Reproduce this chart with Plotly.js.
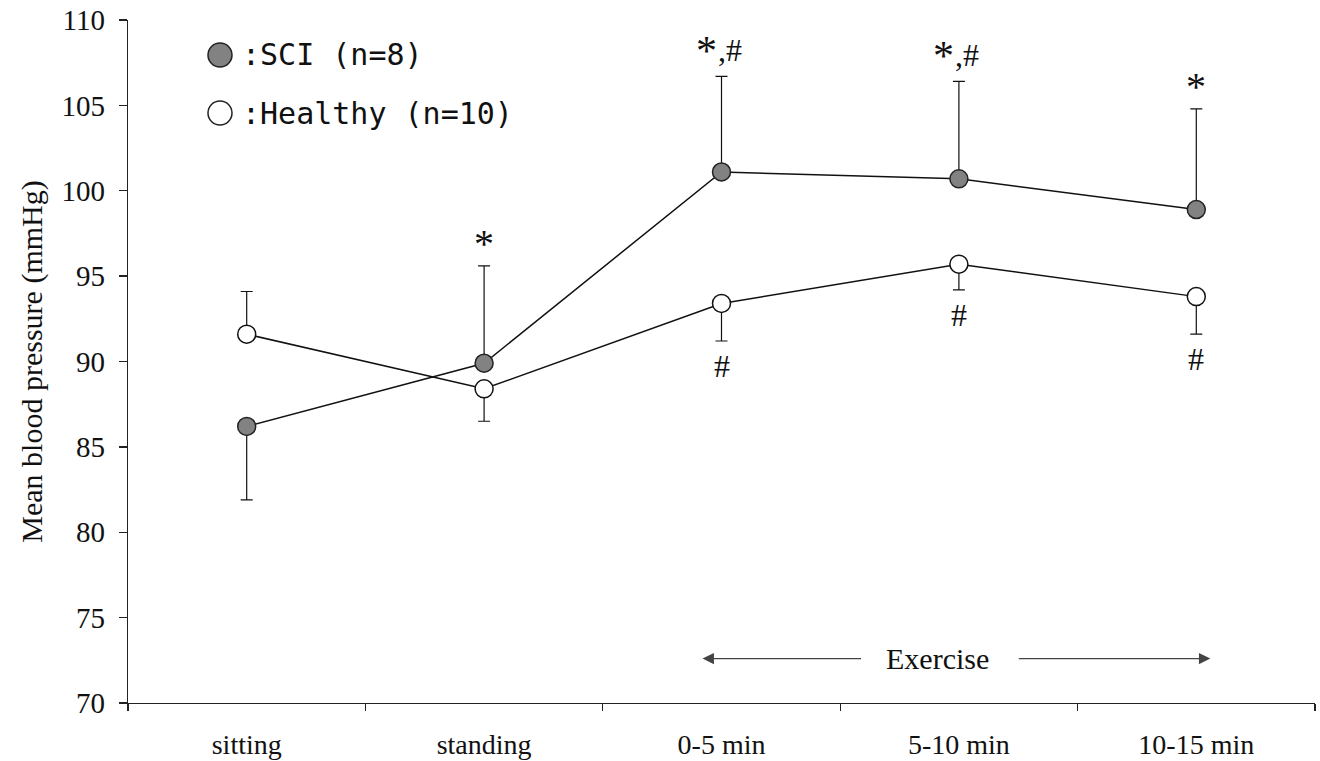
<!DOCTYPE html>
<html><head><meta charset="utf-8">
<script src="https://cdn.plot.ly/plotly-3.0.1.min.js"></script>
<style>html,body{margin:0;padding:0;background:#fff}</style>
</head><body><div id="chart" style="width:1320px;height:761px"></div>
<script>
const categories = ['sitting', 'standing', '0-5 min', '5-10 min', '10-15 min'];
const sciMean = [86.2, 89.9, 101.1, 100.7, 98.9];
const sciSdUp = [0, 5.7, 5.6, 5.7, 5.9];
const sciSdDown = [4.3, 0, 0, 0, 0];
const healthyMean = [91.6, 88.4, 93.4, 95.7, 93.8];
const healthySdUp = [2.5, 0, 0, 0, 0];
const healthySdDown = [0, 1.9, 2.2, 1.5, 2.2];
const sciMarks = ['', '*', '*,#', '*,#', '*'];
const healthyMarks = ['', '', '#', '#', '#'];
const sciName = ':SCI (n=8)';
const healthyName = ':Healthy (n=10)';
const yTitle = 'Mean blood pressure (mmHg)';
const phaseLabel = 'Exercise';
const yTicks = [70, 75, 80, 85, 90, 95, 100, 105, 110];

const SERIF = 'Liberation Serif, Times New Roman, serif';
const MONO = 'DejaVu Sans Mono, monospace';
const INK = '#111';
const sciColor = '#828282';

const traces = [
  {
    x: categories, y: sciMean, type: 'scatter', mode: 'lines+markers', name: sciName,
    line: {color: INK, width: 1.5},
    marker: {symbol: 'circle', size: 18, color: sciColor, line: {color: '#222', width: 1.5}},
    error_y: {type: 'data', symmetric: false, array: sciSdUp, arrayminus: sciSdDown,
      color: INK, thickness: 1.2, width: 6},
    showlegend: false, cliponaxis: false
  },
  {
    x: categories, y: healthyMean, type: 'scatter', mode: 'lines+markers', name: healthyName,
    line: {color: INK, width: 1.5},
    marker: {symbol: 'circle', size: 18, color: '#fff', line: {color: INK, width: 1.5}},
    error_y: {type: 'data', symmetric: false, array: healthySdUp, arrayminus: healthySdDown,
      color: INK, thickness: 1.2, width: 6},
    showlegend: false, cliponaxis: false
  }
];

const annotations = [];
categories.forEach((c, i) => {
  const mk = sciMarks[i];
  if (mk) {
    const yTop = sciMean[i] + sciSdUp[i];
    if (mk.length === 1) {
      annotations.push({x: c, y: yTop, xref: 'x', yref: 'y', text: mk, showarrow: false,
        yanchor: 'middle', yshift: 22, font: {family: SERIF, size: 40, color: INK}});
    } else {
      const star = mk.slice(0, 1);
      const rest = mk.slice(1);
      annotations.push({x: c, y: yTop, xref: 'x', yref: 'y', text: star, showarrow: false,
        xanchor: 'center', xshift: -15, yanchor: 'middle', yshift: 25,
        font: {family: SERIF, size: 42, color: INK}});
      annotations.push({x: c, y: yTop, xref: 'x', yref: 'y', text: rest, showarrow: false,
        xanchor: 'left', xshift: -6, yanchor: 'middle', yshift: 26,
        font: {family: SERIF, size: 32, color: INK}});
    }
  }
  if (healthyMarks[i]) {
    annotations.push({x: c, y: healthyMean[i] - healthySdDown[i], xref: 'x', yref: 'y',
      text: healthyMarks[i], showarrow: false, yanchor: 'middle', yshift: -25,
      font: {family: SERIF, size: 32, color: INK}});
  }
});

// custom legend
const legendX = 0.0775;
const legendRows = [
  {y: 0.9488, name: sciName, fill: sciColor},
  {y: 0.8638, name: healthyName, fill: '#fff'}
];
const shapes = [];
legendRows.forEach(r => {
  shapes.push({type: 'circle', xref: 'paper', yref: 'paper', xsizemode: 'pixel', ysizemode: 'pixel',
    xanchor: legendX, yanchor: r.y, x0: -12, x1: 12, y0: -12, y1: 12,
    fillcolor: r.fill, line: {color: '#222', width: 1.5}});
  annotations.push({xref: 'paper', yref: 'paper', x: legendX, y: r.y, xshift: 20,
    xanchor: 'left', yanchor: 'middle', text: r.name, showarrow: false,
    font: {family: MONO, size: 30, color: INK}});
});

// Exercise label and arrows
const arrowY = 72.6;
annotations.push({x: 2.91, y: arrowY, xref: 'x', yref: 'y', text: phaseLabel, showarrow: false,
  font: {family: SERIF, size: 30, color: INK}});
annotations.push({x: 1.92, y: arrowY, ax: 2.594, ay: arrowY, xref: 'x', yref: 'y', axref: 'x', ayref: 'y',
  text: '', showarrow: true, arrowhead: 2, arrowsize: 1.9, arrowwidth: 1.2, arrowcolor: '#444', standoff: 0});
annotations.push({x: 4.059, y: arrowY, ax: 3.246, ay: arrowY, xref: 'x', yref: 'y', axref: 'x', ayref: 'y',
  text: '', showarrow: true, arrowhead: 2, arrowsize: 1.9, arrowwidth: 1.2, arrowcolor: '#444', standoff: 0});

const layout = {
  width: 1320, height: 761,
  margin: {l: 128, r: 5, t: 20, b: 58},
  paper_bgcolor: '#fff', plot_bgcolor: '#fff',
  font: {family: SERIF, color: INK},
  showlegend: false,
  xaxis: {
    type: 'category', range: [-0.5, 4.5], fixedrange: true,
    showline: true, linecolor: '#222', linewidth: 1.3,
    ticks: 'outside', tickson: 'boundaries', ticklen: 7, tickcolor: '#222', tickwidth: 1.3,
    showgrid: false, zeroline: false,
    tickfont: {family: SERIF, size: 28, color: INK},
    ticklabelstandoff: 16
  },
  yaxis: {
    range: [70, 110], tickvals: yTicks, ticktext: yTicks.map(String),
    showline: true, linecolor: '#222', linewidth: 1.3,
    ticks: 'outside', ticklen: 8, tickcolor: '#222', tickwidth: 1.3,
    showgrid: false, zeroline: false,
    tickfont: {family: SERIF, size: 29, color: INK},
    ticklabelstandoff: 8,
    title: {text: yTitle, font: {family: SERIF, size: 30, color: INK}, standoff: 10}
  },
  shapes: shapes,
  annotations: annotations
};

Plotly.newPlot('chart', traces, layout, {displayModeBar: false, staticPlot: true});
</script></body></html>
